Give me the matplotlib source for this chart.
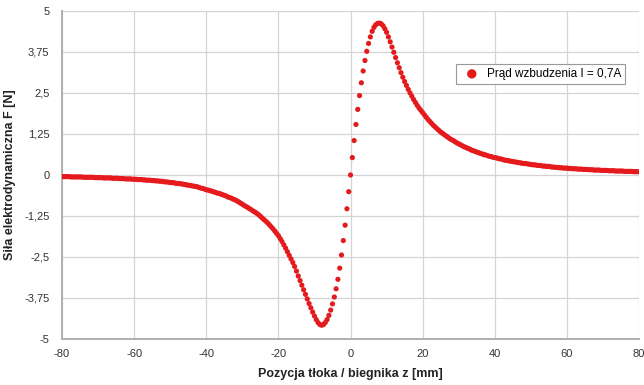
import matplotlib
matplotlib.use("Agg")
import matplotlib.pyplot as plt
import numpy as np

plt.rcParams['font.family'] = ['Liberation Sans', 'DejaVu Sans']
plt.rcParams['axes.unicode_minus'] = False

# position of the plunger: one sample every 0.5 mm, from -80 mm to 80 mm
z_start = -80.0
z_step = 0.5

# measured force [N], ten samples per row
force_n = [
    -0.05, -0.05, -0.05, -0.05, -0.05, -0.06, -0.06, -0.06, -0.06, -0.06,   # -80
    -0.06, -0.06, -0.07, -0.07, -0.07, -0.07, -0.07, -0.07, -0.08, -0.08,   # -75
    -0.08, -0.08, -0.08, -0.09, -0.09, -0.09, -0.09, -0.09, -0.10, -0.10,   # -70
    -0.10, -0.10, -0.11, -0.11, -0.11, -0.12, -0.12, -0.12, -0.12, -0.13,   # -65
    -0.13, -0.13, -0.14, -0.14, -0.14, -0.15, -0.15, -0.16, -0.16, -0.16,   # -60
    -0.17, -0.17, -0.18, -0.18, -0.19, -0.19, -0.20, -0.21, -0.21, -0.22,   # -55
    -0.23, -0.23, -0.24, -0.25, -0.26, -0.26, -0.27, -0.28, -0.29, -0.30,   # -50
    -0.31, -0.32, -0.33, -0.34, -0.35, -0.36, -0.38, -0.40, -0.41, -0.43,   # -45
    -0.45, -0.46, -0.48, -0.49, -0.51, -0.53, -0.55, -0.56, -0.58, -0.60,   # -40
    -0.62, -0.64, -0.67, -0.69, -0.71, -0.74, -0.76, -0.79, -0.82, -0.86,   # -35
    -0.89, -0.93, -0.96, -0.99, -1.03, -1.06, -1.10, -1.13, -1.17, -1.21,   # -30
    -1.26, -1.31, -1.36, -1.41, -1.46, -1.52, -1.58, -1.64, -1.71, -1.78,   # -25
    -1.85, -1.94, -2.03, -2.13, -2.23, -2.34, -2.45, -2.56, -2.67, -2.79,   # -20
    -2.93, -3.08, -3.22, -3.36, -3.50, -3.64, -3.78, -3.92, -4.05, -4.18,   # -15
    -4.30, -4.41, -4.50, -4.56, -4.58, -4.56, -4.50, -4.41, -4.28, -4.12,   # -10
    -3.93, -3.72, -3.47, -3.18, -2.84, -2.44, -2.00, -1.53, -1.03, -0.51,   # -5
    0.00, 0.53, 1.05, 1.54, 2.00, 2.42, 2.81, 3.17, 3.49, 3.77,             # 0
    4.01, 4.21, 4.38, 4.50, 4.58, 4.62, 4.63, 4.61, 4.55, 4.46,             # 5
    4.35, 4.21, 4.06, 3.90, 3.74, 3.58, 3.42, 3.27, 3.12, 2.98,             # 10
    2.85, 2.73, 2.61, 2.50, 2.40, 2.30, 2.21, 2.12, 2.04, 1.97,             # 15
    1.90, 1.83, 1.76, 1.69, 1.63, 1.57, 1.51, 1.46, 1.41, 1.36,             # 20
    1.31, 1.27, 1.23, 1.19, 1.15, 1.11, 1.08, 1.05, 1.01, 0.98,             # 25
    0.95, 0.92, 0.89, 0.86, 0.84, 0.81, 0.79, 0.76, 0.74, 0.72,             # 30
    0.70, 0.68, 0.66, 0.64, 0.62, 0.61, 0.59, 0.57, 0.56, 0.54,             # 35
    0.53, 0.52, 0.50, 0.49, 0.48, 0.46, 0.45, 0.44, 0.43, 0.42,             # 40
    0.41, 0.40, 0.39, 0.38, 0.37, 0.36, 0.35, 0.35, 0.34, 0.33,             # 45
    0.32, 0.31, 0.31, 0.30, 0.29, 0.29, 0.28, 0.27, 0.27, 0.26,             # 50
    0.26, 0.25, 0.24, 0.24, 0.23, 0.23, 0.22, 0.22, 0.21, 0.21,             # 55
    0.21, 0.20, 0.20, 0.19, 0.19, 0.19, 0.18, 0.18, 0.18, 0.17,             # 60
    0.17, 0.17, 0.16, 0.16, 0.16, 0.15, 0.15, 0.15, 0.15, 0.14,             # 65
    0.14, 0.14, 0.14, 0.13, 0.13, 0.13, 0.13, 0.12, 0.12, 0.12,             # 70
    0.12, 0.12, 0.11, 0.11, 0.11, 0.11, 0.11, 0.10, 0.10, 0.10,             # 75
    0.10,                                                                   # 80
]
z_mm = z_start + z_step * np.arange(len(force_n))

x_ticks = [-80, -60, -40, -20, 0, 20, 40, 60, 80]
y_ticks = [-5, -3.75, -2.5, -1.25, 0, 1.25, 2.5, 3.75, 5]
y_tick_labels = ["-5", "-3,75", "-2,5", "-1,25", "0", "1,25", "2,5", "3,75", "5"]

series_label = "Prąd wzbudzenia I = 0,7A"

fig = plt.figure(figsize=(6.44, 3.85), dpi=100)
ax = fig.add_axes([0.0963, 0.1195, 0.896, 0.852])

ax.scatter(z_mm, force_n, s=14, color="#e41a1c", edgecolors="none",
           label=series_label, zorder=3)

ax.set_xlim(-80, 80)
ax.set_ylim(-5, 5)
ax.set_xticks(x_ticks)
ax.set_yticks(y_ticks)
ax.set_yticklabels(y_tick_labels)
ax.tick_params(length=0, labelsize=8, colors="#333333")
ax.tick_params(axis="x", pad=7)
ax.tick_params(axis="y", pad=9)

ax.grid(True, color="#d4d4d4", linewidth=0.9)
ax.set_axisbelow(True)
for side in ("top", "right"):
    ax.spines[side].set_visible(False)
for side in ("left", "bottom"):
    ax.spines[side].set_color("#b0b0b0")
    ax.spines[side].set_linewidth(1.4)

ax.set_xlabel("Pozycja tłoka / biegnika z [mm]", fontsize=9, fontweight="bold",
              color="#222222", labelpad=7)
ax.set_ylabel("Siła elektrodynamiczna F [N]", fontsize=9, fontweight="bold",
              color="#222222", labelpad=6)

leg = ax.legend(loc="upper right", bbox_to_anchor=(0.986, 0.855), fontsize=8.5,
                frameon=True, fancybox=False, framealpha=1, edgecolor="#999999",
                handletextpad=0.3, borderpad=0.3, markerscale=1.8)
leg.get_frame().set_linewidth(0.8)

fig.savefig("out.png", dpi=100)
